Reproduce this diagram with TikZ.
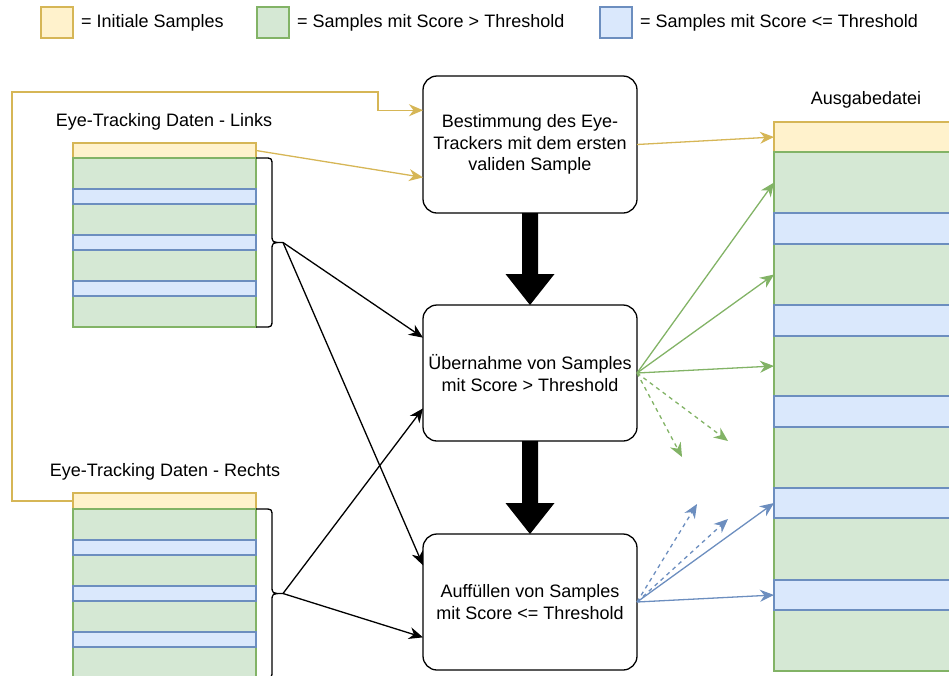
\documentclass[tikz,border=0pt]{standalone}
\usepackage{fontspec}
\setmainfont{Liberation Sans}
\usetikzlibrary{arrows.meta,calc}
\definecolor{yfill}{HTML}{FFF2CC}
\definecolor{ydraw}{HTML}{D6B656}
\definecolor{gfill}{HTML}{D5E8D4}
\definecolor{gdraw}{HTML}{82B366}
\definecolor{bfill}{HTML}{DAE8FC}
\definecolor{bdraw}{HTML}{6C8EBF}
\begin{document}
\begin{tikzpicture}[x=1pt,y=-1pt,
  every node/.style={font=\fontsize{18}{21.6}\selectfont},
  rowbase/.style={draw, line width=1.3pt, minimum width=183pt, inner sep=0pt, outer sep=0pt, anchor=north west},
  rowY/.style={rowbase, fill=yfill, draw=ydraw},
  rowG/.style={rowbase, fill=gfill, draw=gdraw},
  rowB/.style={rowbase, fill=bfill, draw=bdraw},
  legbox/.style={draw, line width=1.3pt, minimum width=32pt, minimum height=31pt, inner sep=0pt},
  legtext/.style={anchor=west, inner sep=0pt},
  stepbox/.style={draw, line width=1.3pt, rounded corners=14pt, minimum width=214pt, minimum height=136pt, align=center, inner sep=2pt, outer sep=0pt},
  arr/.style={line width=1.3pt, -{Stealth[length=14pt,width=12pt,inset=4.5pt]}},
  yarr/.style={arr, draw=ydraw},
  garr/.style={arr, draw=gdraw},
  barr/.style={arr, draw=bdraw},
  karr/.style={arr, draw=black},
  dsh/.style={dash pattern=on 4pt off 4pt},
  bracestyle/.style={draw, line width=1.3pt, line join=round},
  bigarrow/.style={fill=black}
]
\useasboundingbox (0,0) rectangle (949,675);
\clip (0,0) rectangle (949,675);

% legend
\node[legbox, fill=yfill, draw=ydraw] (leg1) at (57,22.5) {};
\node[legtext] (legt1) at (81,23) {= Initiale Samples};
\node[legbox, fill=gfill, draw=gdraw] (leg2) at (273,22.5) {};
\node[legtext] (legt2) at (297,23) {= Samples mit Score > Threshold};
\node[legbox, fill=bfill, draw=bdraw] (leg3) at (616,22.5) {};
\node[legtext] (legt3) at (640,23) {= Samples mit Score <= Threshold};

% labels
\node (lblL) at (164,122) {Eye-Tracking Daten - Links};
\node (lblR) at (165,472) {Eye-Tracking Daten - Rechts};
\node (lblO) at (866,100) {Ausgabedatei};

% left top table
\node[rowY, minimum height=15pt] (L0) at (73,143) {};
\foreach \n/\y/\h in {L1/158/31, L3/204/31, L5/250/31, L7/296/31}
  \node[rowG, minimum height=\h pt] (\n) at (73,\y) {};
\foreach \n/\y/\h in {L2/189/15, L4/235/15, L6/281/15}
  \node[rowB, minimum height=\h pt] (\n) at (73,\y) {};

% left bottom table
\node[rowY, minimum height=16pt] (M0) at (73,493) {};
\foreach \n/\y/\h in {M1/509/31, M3/555/31, M5/601/31, M7/647/31}
  \node[rowG, minimum height=\h pt] (\n) at (73,\y) {};
\foreach \n/\y/\h in {M2/540/15, M4/586/15, M6/632/15}
  \node[rowB, minimum height=\h pt] (\n) at (73,\y) {};

% right table
\node[rowY, minimum height=30pt] (R0) at (774,122) {};
\foreach \n/\y/\h in {R1/152/61, R3/244/61, R5/336/60, R7/427/61, R9/518/62, R11/610/61}
  \node[rowG, minimum height=\h pt] (\n) at (774,\y) {};
\foreach \n/\y/\h in {R2/213/31, R4/305/31, R6/396/31, R8/488/30, R10/580/30}
  \node[rowB, minimum height=\h pt] (\n) at (774,\y) {};

% process boxes
\node[stepbox, minimum height=137pt] (b1) at (530,144.5) {Bestimmung des Eye-\\Trackers mit dem ersten\\validen Sample};
\node[stepbox] (b2) at (530,373) {Übernahme von Samples\\mit Score > Threshold};
\node[stepbox] (b3) at (530,602) {Auffüllen von Samples\\mit Score <= Threshold};

% thick arrows
\fill[bigarrow] ($(b1.south)+(-8,0)$) -- ($(b1.south)+(8,0)$) -- ($(b2.north)+(8,-31)$) -- ($(b2.north)+(24.5,-31)$) -- (b2.north) -- ($(b2.north)+(-24.5,-31)$) -- ($(b2.north)+(-8,-31)$) -- cycle;
\fill[bigarrow] ($(b2.south)+(-8,0)$) -- ($(b2.south)+(8,0)$) -- ($(b3.north)+(8,-31)$) -- ($(b3.north)+(24.5,-31)$) -- (b3.north) -- ($(b3.north)+(-24.5,-31)$) -- ($(b3.north)+(-8,-31)$) -- cycle;

% braces (tips)
\coordinate (t1) at ($(L1.north east)!0.5!(L7.south east)+(27,0)$);
\coordinate (t2) at ($(M1.north east)!0.5!(M7.south east)+(27,0)$);
\draw[bracestyle] (L1.north east) -- ($(L1.north east)+(8,0)$)
  .. controls ($(L1.north east)+(16,0)$) .. ($(L1.north east)+(16,8)$)
  -- ($(t1)+(-11,-8)$) .. controls ($(t1)+(-11,0)$) .. (t1)
  .. controls ($(t1)+(-11,0)$) .. ($(t1)+(-11,8)$)
  -- ($(L7.south east)+(16,-8)$) .. controls ($(L7.south east)+(16,0)$) .. ($(L7.south east)+(8,0)$)
  -- (L7.south east);
\draw[bracestyle] (M1.north east) -- ($(M1.north east)+(8,0)$)
  .. controls ($(M1.north east)+(16,0)$) .. ($(M1.north east)+(16,8)$)
  -- ($(t2)+(-11,-8)$) .. controls ($(t2)+(-11,0)$) .. (t2)
  .. controls ($(t2)+(-11,0)$) .. ($(t2)+(-11,8)$)
  -- ($(M7.south east)+(16,-8)$) .. controls ($(M7.south east)+(16,0)$) .. ($(M7.south east)+(8,0)$)
  -- (M7.south east);

% entry points on boxes
\coordinate (b1i1) at ($(b1.north west)!0.25!(b1.south west)$);
\coordinate (b1i2) at ($(b1.north west)!0.74!(b1.south west)$);
\coordinate (b2i1) at ($(b2.north west)!0.24!(b2.south west)$);
\coordinate (b2i2) at ($(b2.north west)!0.76!(b2.south west)$);
\coordinate (b3i1) at ($(b3.north west)!0.23!(b3.south west)$);
\coordinate (b3i2) at ($(b3.north west)!0.76!(b3.south west)$);
\coordinate (loopA) at (12,92);

% yellow connectors
\draw[yarr] (M0.west) -| (loopA) -| ([xshift=-45pt]b1i1) -- (b1i1);
\draw[yarr] (L0.east) -- (b1i2);
\draw[yarr] (b1.east) -- (R0.west);

% black connectors
\draw[karr] (t1) -- (b2i1);
\draw[karr] (t1) -- (b3i1);
\draw[karr] (t2) -- (b2i2);
\draw[karr] (t2) -- (b3i2);

% green connectors
\coordinate (gd1) at (682,457);
\coordinate (gd2) at (728,441);
\draw[garr] (b2.east) -- (R1.west);
\draw[garr] (b2.east) -- (R3.west);
\draw[garr] (b2.east) -- (R5.west);
\draw[garr, dsh] (b2.east) -- (gd1);
\draw[garr, dsh] (b2.east) -- (gd2);

% blue connectors
\coordinate (bd1) at (697,504);
\coordinate (bd2) at (728,519);
\draw[barr] (b3.east) -- (R8.west);
\draw[barr] (b3.east) -- (R10.west);
\draw[barr, dsh] (b3.east) -- (bd1);
\draw[barr, dsh] (b3.east) -- (bd2);
\end{tikzpicture}
\end{document}
